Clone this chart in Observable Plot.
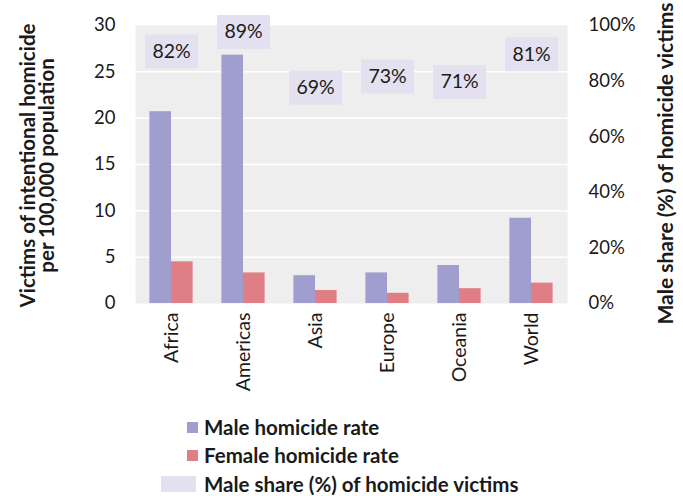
<!DOCTYPE html>
<html><head><meta charset="utf-8">
<script src="https://cdn.jsdelivr.net/npm/d3@7"></script>
<script src="https://cdn.jsdelivr.net/npm/@observablehq/plot@0.6"></script>
<style>
html,body{margin:0;padding:0;background:#fff;}
#wrap{position:relative;width:683px;height:496px;font-family:Lato,"Open Sans",sans-serif;color:#1a1a1a;}
.leg{position:absolute;font-weight:bold;font-size:20.5px;line-height:22px;white-space:nowrap;}
.sw{position:absolute;}
</style></head>
<body><div id="wrap"></div>
<script>
const regions = ["Africa","Americas","Asia","Europe","Oceania","World"];
const maleRate = [20.7, 26.8, 3.0, 3.3, 4.1, 9.2];
const femaleRate = [4.5, 3.3, 1.4, 1.1, 1.6, 2.2];
const maleShare = [82, 89, 69, 73, 71, 81];
const leftTicks = [0,5,10,15,20,25,30];
const rightTicks = [0,20,40,60,80,100];
const seriesNames = ["Male homicide rate","Female homicide rate","Male share (%) of homicide victims"];

const maleColor = "#a09ece", femaleColor = "#e07e86", shareColor = "#e3e1f0";
const rows = regions.map((r,i)=>({region:r, male:maleRate[i], female:femaleRate[i], share:maleShare[i], shareY: maleShare[i]*30/100}));

const boxSymbol = {draw(ctx){ ctx.rect(-26.5,-17,53,34); }};

const chart = Plot.plot({
  width: 683, height: 400,
  marginLeft: 135, marginRight: 116, marginTop: 25, marginBottom: 97,
  style: {fontFamily: "Lato, 'Open Sans', sans-serif", fontSize: "18px", color: "#1a1a1a", background: "transparent", overflow: "visible"},
  x: {domain: regions, paddingInner: 0.4, paddingOuter: 0.2, round: false, label: null},
  y: {domain: [0,30], label: null},
  marks: [
    Plot.frame({fill: "#edeeed", stroke: null}),
    Plot.gridY(leftTicks.slice(1,-1), {stroke: "#fff", strokeOpacity: 1, strokeWidth: 1.5}),
    Plot.barY(rows, {x: "region", y: "male", fill: maleColor, insetRight: 21.6}),
    Plot.barY(rows, {x: "region", y: "female", fill: femaleColor, insetLeft: 21.6}),
    Plot.dot(rows, {x: "region", y: "shareY", symbol: boxSymbol, r: 10, fill: shareColor, stroke: null, dy: -24}),
    Plot.text(rows, {x: "region", y: "shareY", text: d => d.share + "%", dy: -24, fontSize: 19.5, fill: "#1a1a1a"}),
    Plot.axisY(leftTicks, {anchor: "left", tickSize: 0, tickPadding: 20, label: null, fontSize: 18.5}),
    Plot.axisY(rightTicks.map(v=>v*30/100), {anchor: "right", tickSize: 0, tickPadding: 21, label: null, fontSize: 18.5, tickFormat: v => Math.round(v/30*100) + "%"}),
    Plot.axisX({anchor: "bottom", tickSize: 0, tickPadding: 9, tickRotate: -90, label: null, fontSize: 19.5}),
    Plot.text(["Victims of intentional homicide\nper 100,000 population"], {frameAnchor: "left", textAnchor: "middle", lineAnchor: "middle", dx: -97, dy: 1, rotate: -90, fontWeight: "bold", fontSize: 20.5, lineHeight: 0.95, fill: "#1a1a1a"}),
    Plot.text(["Male share (%) of homicide victims"], {frameAnchor: "right", textAnchor: "middle", lineAnchor: "middle", dx: 99, dy: -1, rotate: -90, fontWeight: "bold", fontSize: 21, fill: "#1a1a1a"})
  ]
});
const wrap = document.getElementById("wrap");
wrap.appendChild(chart);

const legendItems = [
  {name: seriesNames[0], color: maleColor, sx: 187, sy: 422, sw: 11, sh: 11, ty: 416},
  {name: seriesNames[1], color: femaleColor, sx: 187, sy: 450, sw: 11, sh: 11, ty: 444},
  {name: seriesNames[2], color: shareColor, sx: 161, sy: 476, sw: 35, sh: 16, ty: 473}
];
for (const it of legendItems) {
  const s = document.createElement("div");
  s.className = "sw";
  Object.assign(s.style, {left: it.sx+"px", top: it.sy+"px", width: it.sw+"px", height: it.sh+"px", background: it.color});
  wrap.appendChild(s);
  const t = document.createElement("div");
  t.className = "leg";
  t.textContent = it.name;
  Object.assign(t.style, {left: "204px", top: it.ty+"px"});
  wrap.appendChild(t);
}
</script></body></html>
